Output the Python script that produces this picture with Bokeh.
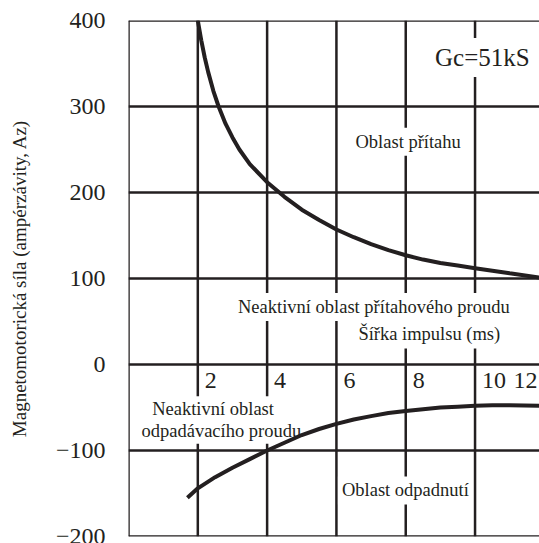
from bokeh.plotting import figure
from bokeh.models import Span, Label, FixedTicker, Range1d
from bokeh.embed import file_html
from bokeh.resources import INLINE
from bokeh.core.properties import value

# ---- data ----
upper_x = [2.0, 2.1, 2.2, 2.3, 2.45, 2.6, 2.8, 3.0, 3.2, 3.5, 4.0, 4.5, 5.0, 5.5, 6.0,
           6.5, 7.0, 7.5, 8.0, 8.5, 9.0, 9.5, 10.0, 10.5, 11.0, 11.86]
upper_y = [400, 377, 357, 340, 318, 300, 280, 264, 250, 233, 212, 195, 180, 168, 157,
           148, 140, 133, 127, 122, 118, 115, 112, 109, 106, 101]
lower_x = [1.7, 1.85, 2.0, 2.5, 3.0, 3.5, 4.0, 4.5, 5.0, 5.5, 6.0, 6.5, 7.0, 7.5, 8.0,
           8.5, 9.0, 9.5, 10.0, 10.5, 11.0, 11.86]
lower_y = [-155, -149.5, -144, -131, -120, -110, -100, -91, -82, -75, -69, -64, -60,
           -56.5, -54, -52, -50, -49, -48, -47.5, -47.5, -48]
y_ticks = [-200, -100, 0, 100, 200, 300, 400]
x_ticks = [2, 4, 6, 8, 10, 12]
x_tick_labels = ["2", "4", "6", "8", "10", "12"]
y_label = "Magnetomotorická síla (ampérzávity, Az)"
x_label = "Šířka impulsu (ms)"

X_MIN, X_MAX = 0, 11.86
Y_MIN, Y_MAX = -200, 400
INK = "#231f20"
FONT = "Liberation Serif"

p = figure(width=539, height=543, output_backend="svg", toolbar_location=None,
           x_range=Range1d(X_MIN, X_MAX), y_range=Range1d(Y_MIN, Y_MAX),
           min_border_left=128, min_border_right=0, min_border_top=20,
           min_border_bottom=7)
p.outline_line_color = None
p.grid.visible = False
p.xaxis.visible = False
p.background_fill_color = "white"

ya = p.yaxis[0]
ya.ticker = FixedTicker(ticks=y_ticks)
ya.major_label_overrides = {t: (str(t).replace("-", "\u2212")) for t in y_ticks}
ya.major_label_text_font = FONT
ya.major_label_text_font_size = "24px"
ya.major_label_text_color = INK
ya.major_label_standoff = 17
ya.major_tick_line_color = None
ya.minor_tick_line_color = None
ya.axis_line_color = None
ya.axis_label = y_label
ya.axis_label_text_font = FONT
ya.axis_label_text_font_style = "normal"
ya.axis_label_text_font_size = "19px"
ya.axis_label_text_color = INK
ya.axis_label_standoff = 23

# grid / frame lines
for t in y_ticks:
    p.add_layout(Span(location=t, dimension="width", line_color=INK, line_width=2.5,
                      level="underlay"))
for t in [X_MIN] + [t for t in x_ticks if t < X_MAX]:
    p.add_layout(Span(location=t, dimension="height", line_color=INK, line_width=2.5,
                      level="underlay"))

def lab(x, y, text, size="18.5px", pad=4):
    p.add_layout(Label(x=x, y=y, text=text, text_font=FONT, text_font_size=size,
                       text_color=INK, text_align="center", text_baseline="middle",
                       background_fill_color="white", padding=pad, level="underlay"))

lab(10.21, 357, "Gc=51kS", size="25px", pad=6)
lab(8.07, 259, "Oblast přítahu")
lab(7.08, 67, "Neaktivní oblast přítahového proudu")
lab(8.68, 35, x_label)
lab(2.44, -52, "Neaktivní oblast", pad=3)
lab(2.68, -77, "odpadávacího proudu", pad=3)
lab(7.99, -146.5, "Oblast odpadnutí")

# curves
p.line(upper_x, upper_y, line_color=INK, line_width=4)
p.line(lower_x, lower_y, line_color=INK, line_width=4)

# x tick labels inside the plot
for t, lab_txt in zip(x_ticks, x_tick_labels):
    if t < X_MAX:
        p.text(x=[t], y=[0], text=[lab_txt], text_font=value(FONT), text_font_size="24px",
               text_color=INK, text_align="left", text_baseline="top",
               x_offset=7, y_offset=8)
    else:
        p.text(x=[X_MAX], y=[0], text=[lab_txt], text_font=value(FONT), text_font_size="24px",
               text_color=INK, text_align="right", text_baseline="top",
               x_offset=-2, y_offset=8)

open("out.html", "w").write(file_html(p, INLINE))
